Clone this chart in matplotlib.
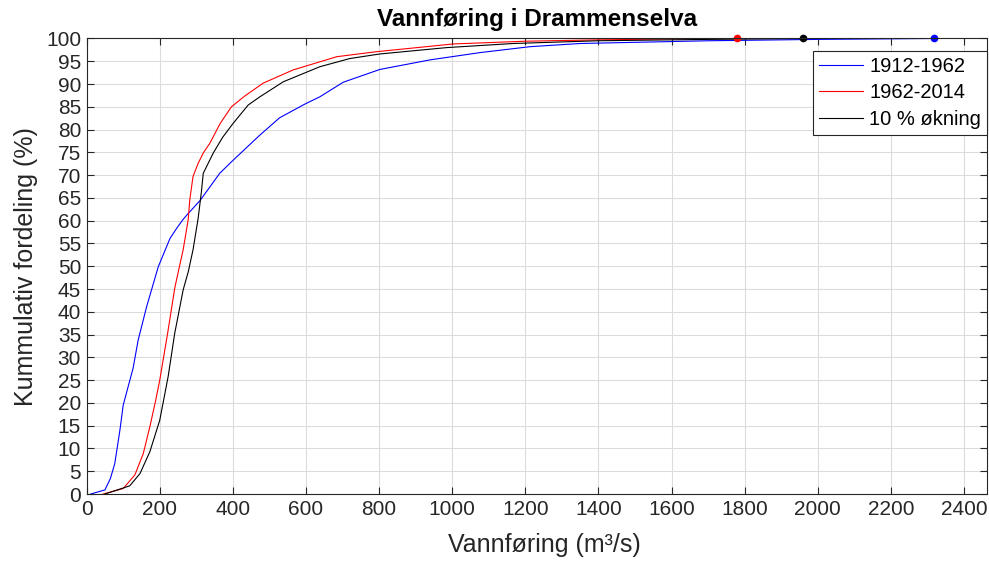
import matplotlib
matplotlib.use("Agg")
import matplotlib.pyplot as plt

plt.rcParams['font.family'] = ['Liberation Sans', 'DejaVu Sans']

# 1912-1962 (blue)
q_blue = [11, 50, 65, 77, 91, 100, 127, 141, 164, 196, 228, 246, 264, 278, 310,
          364, 401, 474, 528, 597, 638, 702, 802, 939, 1076, 1213, 1350, 1700, 2000, 2318]
p_blue = [0, 0.9, 3.4, 6.7, 14, 19.5, 27.6, 33.8, 41.1, 49.9, 56.1, 58.3, 60.3, 61.6, 64.4,
          70.4, 73.3, 78.8, 82.6, 85.6, 87.2, 90.4, 93.2, 95.3, 96.9, 98.2, 98.9, 99.5, 99.8, 100]

# 1962-2014 (red)
q_red = [45, 100, 132, 155, 173, 189, 200, 222, 241, 254, 264, 278, 282, 291, 305, 320, 337,
         365, 396, 433, 483, 565, 684, 793, 1003, 1200, 1400, 1600, 1780]
p_red = [0, 1.2, 4.2, 8.9, 14.8, 20.6, 25, 35.5, 45.2, 50, 53.6, 60.3, 64.5, 69.7, 72.6, 75, 77,
         81.3, 85, 87.4, 90.2, 93.1, 96, 97.1, 98.8, 99.4, 99.7, 99.9, 100]

# 10 % okning (black)
q_black = [50, 118, 146, 173, 200, 223, 241, 264, 278, 291, 305, 314, 319, 346, 372, 401,
           442, 474, 538, 638, 720, 802, 985, 1167, 1400, 1700, 1960]
p_black = [0, 1.8, 4.5, 9.3, 16.2, 25.8, 35.3, 44.8, 48.8, 53.6, 60.5, 66.4, 70.4, 74.8, 78.3, 81.4,
           85.4, 87.2, 90.5, 93.8, 95.6, 96.6, 98, 98.9, 99.5, 99.8, 100]

fig = plt.figure(figsize=(9.89, 5.61), dpi=100)
ax = fig.add_axes([0.0876, 0.1194, 0.9104, 0.812])

ax.plot(q_blue, p_blue, color='blue', lw=0.8, label='1912-1962')
ax.plot(q_red, p_red, color='red', lw=0.8, label='1962-2014')
ax.plot(q_black, p_black, color='black', lw=0.8, label='10 % økning')
ax.plot(q_blue[-1], p_blue[-1], '.', color='blue', ms=9, clip_on=False)
ax.plot(q_red[-1], p_red[-1], '.', color='red', ms=9, clip_on=False)
ax.plot(q_black[-1], p_black[-1], '.', color='black', ms=9, clip_on=False)

ax.set_xlim(0, 2463)
ax.set_ylim(0, 100)
ax.set_xticks(range(0, 2401, 200))
ax.set_yticks(range(0, 101, 5))
ax.grid(True, color='#dcdcdc', lw=0.8)
ax.set_axisbelow(True)
ax.tick_params(direction='in', top=True, right=True, labelsize=15, length=5, pad=4,
               color='#262626', labelcolor='#262626')
for s in ax.spines.values():
    s.set_color('#262626')
    s.set_linewidth(0.8)

ax.set_title('Vannføring i Drammenselva', fontsize=17.5, fontweight='bold', pad=9)
ax.set_xlabel('Vannføring (m³/s)', fontsize=18, color='#262626', labelpad=14)
ax.xaxis.set_label_coords(0.508, -0.085)
ax.set_ylabel('Kummulativ fordeling (%)', fontsize=18, color='#262626', labelpad=6)

leg = ax.legend(loc='upper right', fontsize=14.5, fancybox=False, framealpha=1,
                edgecolor='#262626', borderaxespad=0, handlelength=2.2,
                labelspacing=0.38, borderpad=0.3, handletextpad=0.3,
                bbox_to_anchor=(1.0, 0.973))
leg.get_frame().set_linewidth(0.8)

fig.savefig('out.png', dpi=100)
